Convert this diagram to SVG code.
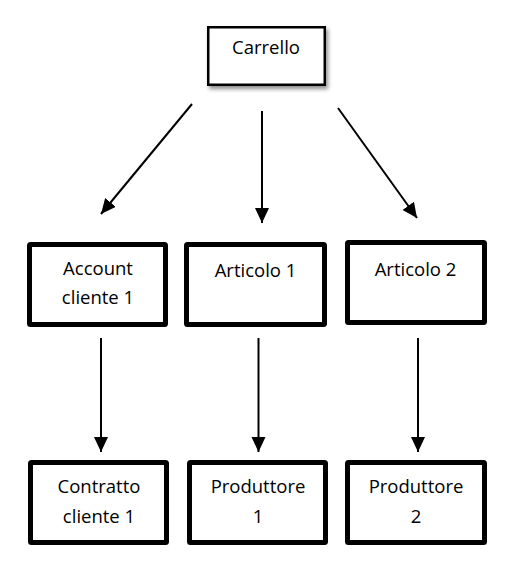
<svg xmlns="http://www.w3.org/2000/svg" width="516" height="573" viewBox="0 0 516 573">
  <style>
    .bg { fill: #ffffff; }
    .box { fill: #ffffff; stroke: #000000; stroke-width: 5; }
    .top { fill: #ffffff; stroke: #000000; stroke-width: 2.5; }
    .lbl { font-family: "Open Sans", "Liberation Sans", sans-serif; font-size: 18.5px; fill: #000000; text-anchor: middle; }
    .conn { stroke: #000000; stroke-width: 2; fill: none; marker-end: url(#arrow); }
  </style>
  <defs>
    <marker id="arrow" markerUnits="userSpaceOnUse" markerWidth="16" markerHeight="15" refX="15" refY="7" orient="auto">
      <path d="M0,0 L15,7 L0,14 Z" fill="#000000"/>
    </marker>
    <filter id="shadow" x="-20%" y="-20%" width="140%" height="150%">
      <feDropShadow dx="2" dy="3" stdDeviation="2" flood-color="#000000" flood-opacity="0.45"/>
    </filter>
  </defs>
  <rect class="bg" x="0" y="0" width="516" height="573"/>

  <g id="connectors">
    <line class="conn" x1="192" y1="104" x2="101" y2="214"/>
    <line class="conn" x1="262" y1="111" x2="262" y2="223"/>
    <line class="conn" x1="338" y1="108" x2="417" y2="218"/>
    <line class="conn" x1="101" y1="338" x2="101" y2="452"/>
    <line class="conn" x1="258.5" y1="338" x2="258.5" y2="452"/>
    <line class="conn" x1="418" y1="338" x2="418" y2="452"/>
  </g>

  <g id="carrello">
    <rect class="top" x="208.25" y="27.25" width="116.5" height="57.5" filter="url(#shadow)"/>
    <text class="lbl" x="266" y="54">Carrello</text>
  </g>

  <g id="account-cliente-1">
    <rect class="box" x="29.5" y="244.5" width="136" height="80" rx="1"/>
    <text class="lbl" x="98" y="275">Account</text>
    <text class="lbl" x="98" y="304">cliente 1</text>
  </g>

  <g id="articolo-1">
    <rect class="box" x="186.5" y="244.5" width="138" height="80" rx="1"/>
    <text class="lbl" x="255.5" y="277">Articolo 1</text>
  </g>

  <g id="articolo-2">
    <rect class="box" x="347.5" y="242.5" width="137" height="80" rx="1"/>
    <text class="lbl" x="415.5" y="275.5">Articolo 2</text>
  </g>

  <g id="contratto-cliente-1">
    <rect class="box" x="30.5" y="462.5" width="136" height="80" rx="1"/>
    <text class="lbl" x="99" y="493">Contratto</text>
    <text class="lbl" x="99" y="523">cliente 1</text>
  </g>

  <g id="produttore-1">
    <rect class="box" x="189.5" y="462.5" width="136" height="80" rx="1"/>
    <text class="lbl" x="258" y="493">Produttore</text>
    <text class="lbl" x="258" y="523">1</text>
  </g>

  <g id="produttore-2">
    <rect class="box" x="347.5" y="462.5" width="137" height="80" rx="1"/>
    <text class="lbl" x="416" y="493">Produttore</text>
    <text class="lbl" x="416" y="523">2</text>
  </g>
</svg>
